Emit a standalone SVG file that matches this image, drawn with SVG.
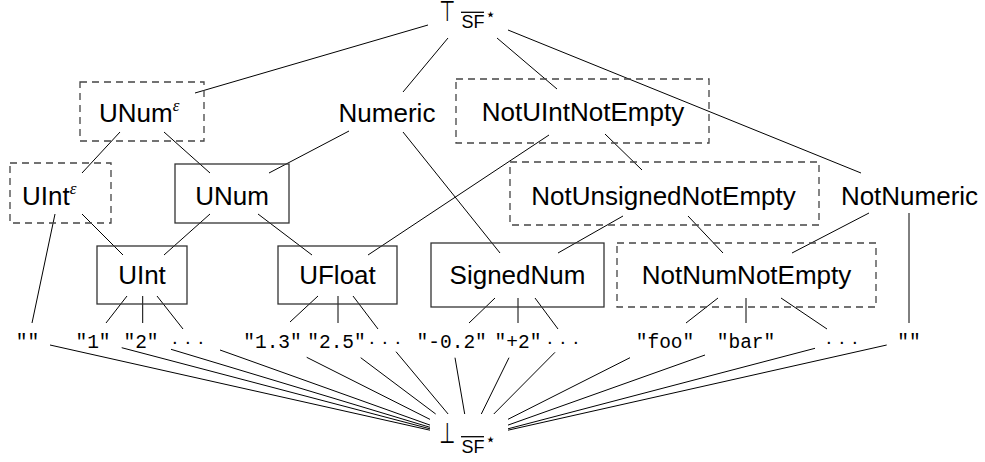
<svg xmlns="http://www.w3.org/2000/svg" width="985" height="462" viewBox="0 0 985 462">
<style>
.lbl{font-family:"Liberation Sans",Arial,sans-serif;font-size:26px;fill:#000}
.leaf{font-family:"Liberation Mono","Courier New",monospace;font-size:19.5px;fill:#000;text-anchor:middle}
.dots{font-family:"Liberation Sans",Arial,sans-serif;font-size:20px;fill:#000;text-anchor:middle;letter-spacing:6.3px}
.eps{font-family:"Liberation Serif","Times New Roman",serif;font-style:italic;font-size:17px}
.sym{font-family:"DejaVu Sans",sans-serif;font-size:26px;fill:#000;text-anchor:middle}
.sf{font-family:"Liberation Sans",Arial,sans-serif;font-size:18px;fill:#000}
.star{font-family:"DejaVu Sans",sans-serif;font-size:17px;fill:#000;text-anchor:middle}
.solid{fill:none;stroke:#333;stroke-width:1.3}
.dash{fill:none;stroke:#444;stroke-width:1.3;stroke-dasharray:7 5}
.c line{stroke:#000;stroke-width:1}
</style>
<g id="connectors" class="c">
<line x1="428" y1="25" x2="195" y2="93"/>
<line x1="448" y1="38" x2="403" y2="92"/>
<line x1="497" y1="38" x2="557" y2="89"/>
<line x1="508" y1="30" x2="861" y2="173"/>
<line x1="120" y1="132" x2="82" y2="173"/>
<line x1="164" y1="132" x2="210" y2="173"/>
<line x1="349" y1="131" x2="269" y2="173"/>
<line x1="403" y1="132" x2="500" y2="253"/>
<line x1="549" y1="135" x2="368" y2="255"/>
<line x1="605" y1="134" x2="642" y2="170"/>
<line x1="623" y1="216" x2="558" y2="253"/>
<line x1="688" y1="216" x2="723" y2="253"/>
<line x1="869" y1="213" x2="792" y2="253"/>
<line x1="909" y1="213" x2="909" y2="323"/>
<line x1="55" y1="214" x2="32" y2="323"/>
<line x1="82" y1="214" x2="123" y2="255"/>
<line x1="210" y1="214" x2="164" y2="255"/>
<line x1="258" y1="214" x2="312" y2="255"/>
<line x1="127" y1="296" x2="106" y2="323"/>
<line x1="142.7" y1="296" x2="142.7" y2="323"/>
<line x1="157" y1="296" x2="183" y2="329"/>
<line x1="318" y1="296" x2="290" y2="322"/>
<line x1="338" y1="296" x2="338" y2="323"/>
<line x1="353" y1="296" x2="378" y2="329"/>
<line x1="495" y1="298" x2="469" y2="323"/>
<line x1="518" y1="298" x2="518" y2="323"/>
<line x1="535" y1="298" x2="558" y2="329"/>
<line x1="718" y1="298" x2="686" y2="323"/>
<line x1="746" y1="298" x2="746" y2="323"/>
<line x1="781" y1="298" x2="827" y2="329"/>
<line x1="50" y1="345" x2="430" y2="430.2"/>
<line x1="121.7" y1="347.7" x2="430" y2="428.8"/>
<line x1="171" y1="349.3" x2="430" y2="427.3"/>
<line x1="220" y1="350" x2="430" y2="425.1"/>
<line x1="306.7" y1="357.3" x2="430" y2="419.4"/>
<line x1="360.7" y1="357.7" x2="435.7" y2="414"/>
<line x1="396" y1="351.7" x2="448.1" y2="414"/>
<line x1="455" y1="357.7" x2="464.7" y2="414"/>
<line x1="509" y1="357.7" x2="481.3" y2="414"/>
<line x1="555" y1="352.3" x2="493.8" y2="414"/>
<line x1="630" y1="357.7" x2="508" y2="419.3"/>
<line x1="705" y1="355" x2="508" y2="425.1"/>
<line x1="815" y1="348.3" x2="508" y2="428.8"/>
<line x1="886.7" y1="345" x2="508" y2="430.2"/>
</g>
<g id="top">
<text class="sym" x="447.5" y="20.5" transform="translate(447.5 20.5) scale(0.7 1.1) translate(-447.5 -20.5)">⊤</text>
<line x1="461" y1="12.3" x2="484" y2="12.3" stroke="#000" stroke-width="1.3"/>
<text class="sf" x="461.5" y="28.3">SF</text>
<text class="star" x="490.5" y="20">⋆</text>
</g>
<g id="bottom">
<text class="sym" x="447.5" y="443" transform="translate(447.5 443) scale(0.7 1.1) translate(-447.5 -443)">⊥</text>
<line x1="461" y1="436.7" x2="484" y2="436.7" stroke="#000" stroke-width="1.3"/>
<text class="sf" x="461.5" y="452.7">SF</text>
<text class="star" x="490.5" y="445">⋆</text>
</g>
<g id="unum-eps">
<rect class="dash" x="80" y="82" width="124" height="59"/>
<text class="lbl" x="99" y="122">UNum<tspan class="eps" dy="-11">ε</tspan></text>
</g>
<g id="numeric">
<text class="lbl" x="387" y="122" text-anchor="middle">Numeric</text>
</g>
<g id="notuintnotempty">
<rect class="dash" x="456" y="79" width="253" height="64"/>
<text class="lbl" x="583" y="121" text-anchor="middle">NotUIntNotEmpty</text>
</g>
<g id="uint-eps">
<rect class="dash" x="10" y="163" width="101" height="60"/>
<text class="lbl" x="22" y="205">UInt<tspan class="eps" dy="-11">ε</tspan></text>
</g>
<g id="unum">
<rect class="solid" x="175" y="164" width="114" height="59"/>
<text class="lbl" x="232" y="205" text-anchor="middle">UNum</text>
</g>
<g id="notunsignednotempty">
<rect class="dash" x="510" y="162" width="309" height="63"/>
<text class="lbl" x="663.5" y="205" text-anchor="middle">NotUnsignedNotEmpty</text>
</g>
<g id="notnumeric">
<text class="lbl" x="909.5" y="205" text-anchor="middle">NotNumeric</text>
</g>
<g id="uint">
<rect class="solid" x="97" y="246" width="90" height="58"/>
<text class="lbl" x="142" y="284" text-anchor="middle">UInt</text>
</g>
<g id="ufloat">
<rect class="solid" x="278" y="246" width="119" height="58"/>
<text class="lbl" x="337.5" y="284" text-anchor="middle">UFloat</text>
</g>
<g id="signednum">
<rect class="solid" x="431" y="243" width="173" height="64"/>
<text class="lbl" x="517.5" y="284" text-anchor="middle">SignedNum</text>
</g>
<g id="notnumnotempty">
<rect class="dash" x="617" y="243" width="259" height="64"/>
<text class="lbl" x="746.5" y="284" text-anchor="middle">NotNumNotEmpty</text>
</g>
<g id="leaf-empty1"><text class="leaf" x="27.5" y="348">""</text></g>
<g id="leaf-1"><text class="leaf" x="93" y="348">"1"</text></g>
<g id="leaf-2"><text class="leaf" x="141" y="348">"2"</text></g>
<g id="leaf-dots1"><text class="dots" x="191" y="348">···</text></g>
<g id="leaf-13"><text class="leaf" x="272.5" y="348">"1.3"</text></g>
<g id="leaf-25"><text class="leaf" x="336.5" y="348">"2.5"</text></g>
<g id="leaf-dots2"><text class="dots" x="388" y="348">···</text></g>
<g id="leaf-m02"><text class="leaf" x="451.7" y="348">"-0.2"</text></g>
<g id="leaf-p2"><text class="leaf" x="518" y="348">"+2"</text></g>
<g id="leaf-dots3"><text class="dots" x="566" y="348">···</text></g>
<g id="leaf-foo"><text class="leaf" x="665" y="348">"foo"</text></g>
<g id="leaf-bar"><text class="leaf" x="746" y="348">"bar"</text></g>
<g id="leaf-dots4"><text class="dots" x="845" y="348">···</text></g>
<g id="leaf-empty2"><text class="leaf" x="909" y="348">""</text></g>
</svg>
